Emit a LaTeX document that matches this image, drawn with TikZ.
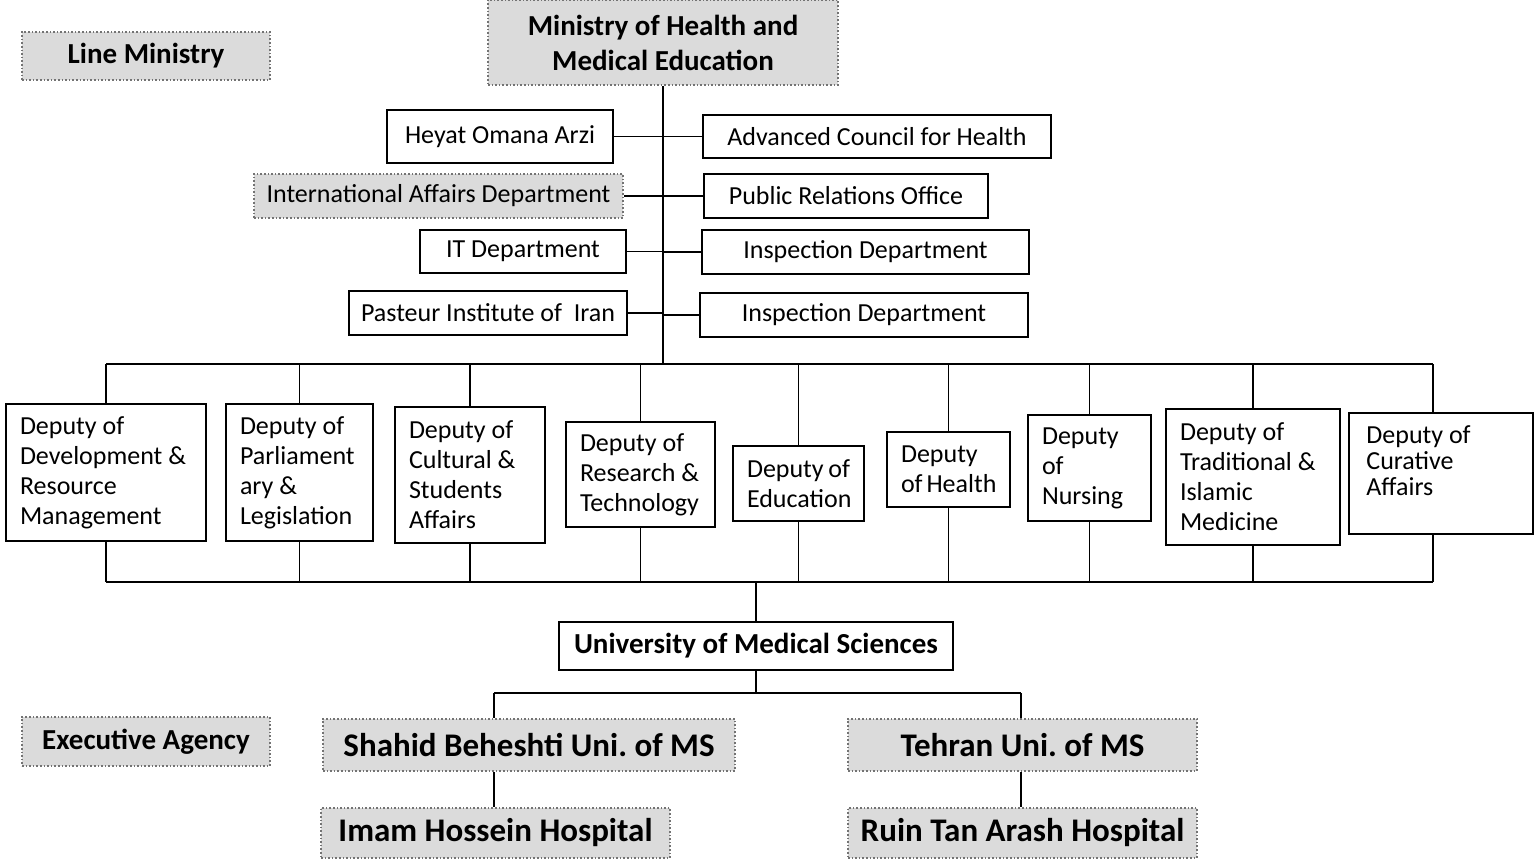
\documentclass[tikz,border=0pt]{standalone}
\usepackage{fontspec}
\setmainfont{Carlito}
\frenchspacing
\begin{document}
\frenchspacing
\begin{tikzpicture}[x=0.5pt,y=-0.5pt,
  box/.style={draw=black, line width=0.8pt, inner sep=0pt, align=center, font=\fontsize{13}{15}\selectfont},
  shaded/.style={draw=black!55, densely dotted, line width=0.8pt, fill=gray!28, inner sep=0pt, align=center},
  plainshade/.style={shaded, font=\fontsize{13}{15}\selectfont},
  hdr/.style={shaded, font=\bfseries\fontsize{14.5}{17.5}\selectfont},
  bighdr/.style={shaded, font=\bfseries\fontsize{16.5}{19}\selectfont},
  unibox/.style={box, font=\bfseries\fontsize{14.5}{17.5}\selectfont},
  dep/.style={box, align=flush left, inner xsep=7pt, inner ysep=0pt},
  link/.style={line width=0.6pt}]
\useasboundingbox (0,0) rectangle (1535,861);

% top
\node[hdr, minimum width=124pt, minimum height=24pt] (linemin) at (146,56) {Line Ministry};
\node[hdr, minimum width=175pt, minimum height=42.5pt] (ministry) at (663,42.5) {Ministry of Health and\\Medical Education};

\node[box, minimum width=113pt, minimum height=26.5pt] (heyat) at (500,136.5) {Heyat Omana Arzi};
\node[box, minimum width=174pt, minimum height=21.5pt] (adv) at (877,136.5) {Advanced Council for Health};
\node[plainshade, minimum width=184.5pt, minimum height=22pt] (intl) at (438.5,196) {International Affairs Department};
\node[box, minimum width=142pt, minimum height=22pt] (pr) at (846,196) {Public Relations Office};
\node[box, minimum width=103pt, minimum height=21.5pt] (itd) at (523,251.5) {IT Department};
\node[box, minimum width=163.5pt, minimum height=22pt] (insp1) at (865.5,252) {Inspection Department};
\node[box, minimum width=139pt, minimum height=22pt] (pasteur) at (488,313) {Pasteur Institute of~ Iran};
\node[box, minimum width=164pt, minimum height=22pt] (insp2) at (864,315) {Inspection Department};

\coordinate (bL) at (106,364);
\coordinate (bR) at (1433,364);
\coordinate (lbL) at (106,582);
\coordinate (lbR) at (1433,582);

\draw[link] (ministry.south) -- (ministry.south |- bL);
\foreach \n in {heyat,intl,itd,pasteur}{\draw[link] (\n.east) -- (\n.east -| ministry.south);}
\foreach \n in {adv,pr,insp1,insp2}{\draw[link] (\n.west) -- (\n.west -| ministry.south);}

% deputies
\node[dep, minimum width=100pt, text width=86pt, minimum height=68.5pt] (d1) at (106,472.5) {Deputy~of\\Development~\&\\Resource\\Management};
\node[dep, minimum width=73.5pt, text width=59.5pt, minimum height=68.5pt] (d2) at (299.5,472.5) {Deputy~of\\Parliament\\ary~\&\\Legislation};
\node[dep, minimum width=75pt, text width=61pt, minimum height=68pt] (d3) at (470,475) {Deputy~of\\Cultural~\&\\Students\\Affairs};
\node[dep, minimum width=74.5pt, text width=60.5pt, minimum height=52.5pt] (d4) at (640.5,474.5) {Deputy~of\\Research~\&\\Technology};
\node[dep, minimum width=65.5pt, text width=51.5pt, minimum height=37.5pt] (d5) at (798.5,483.5) {Deputy~of\\Education};
\node[dep, minimum width=61.5pt, text width=47.5pt, minimum height=37.5pt] (d6) at (948.5,469.5) {Deputy\\of~Health};
\node[dep, minimum width=61.5pt, text width=47.5pt, minimum height=53pt] (d7) at (1089.5,468) {Deputy\\of\\Nursing};
\node[dep, minimum width=87pt, text width=73pt, minimum height=68pt] (d8) at (1253,477) {Deputy~of\\Traditional~\&\\Islamic\\Medicine};
\node[box, minimum width=92pt, minimum height=60.5pt] (d9) at (1441,473.5) {};
\node[anchor=north west, inner sep=0pt, align=flush left, font=\fontsize{13}{13}\selectfont] (d9t) at (1366,425) {Deputy~of\\Curative\\Affairs};

\draw[link] (bL) -- (bR);
\draw[link] (lbL) -- (lbR);
\foreach \n in {d1,d2,d3,d4,d5,d6,d7,d8}{
  \draw[link] (\n.north) -- (\n.north |- bL);
  \draw[link] (\n.south) -- (\n.south |- lbL);
}
\draw[link] (bR) -- (bR |- d9.north);
\draw[link] (d9.south -| bR) -- (lbR);

% lower part
\node[unibox, minimum width=197pt, minimum height=24pt] (uni) at (756,646) {University of Medical Sciences};
\draw[link] (uni.north) -- (uni.north |- lbL);

\node[hdr, minimum width=124pt, minimum height=24.5pt] (exec) at (146,741.5) {Executive Agency};
\node[bighdr, minimum width=206pt, minimum height=26pt] (shahid) at (529,745) {Shahid Beheshti Uni. of MS};
\node[bighdr, minimum width=174.5pt, minimum height=26pt] (tehran) at (1022.5,745) {Tehran Uni. of MS};
\node[bighdr, minimum width=174.5pt, minimum height=25pt] (imam) at (495.5,833) {Imam Hossein Hospital};
\node[bighdr, minimum width=174.5pt, minimum height=25pt] (ruin) at (1022.5,833) {Ruin Tan Arash Hospital};

\coordinate (sj) at (494,693);
\coordinate (tj) at (1021,693);
\draw[link] (uni.south) -- (uni.south |- sj);
\draw[link] (sj) -- (tj);
\draw[link] (sj) -- (sj |- shahid.north);
\draw[link] (tj) -- (tj |- tehran.north);
\draw[link] (sj |- shahid.south) -- (sj |- imam.north);
\draw[link] (tj |- tehran.south) -- (tj |- ruin.north);
\end{tikzpicture}
\end{document}
